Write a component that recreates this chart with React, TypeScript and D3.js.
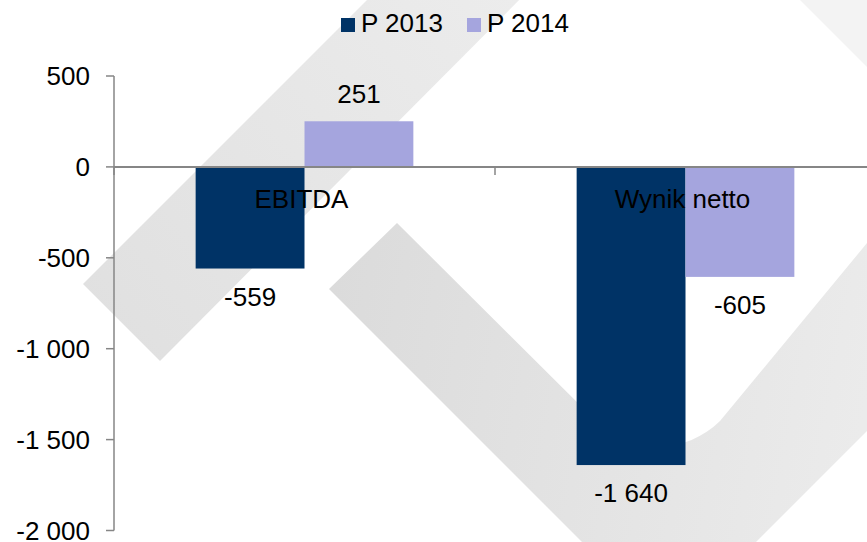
import React from "react";
import * as d3 from "d3";

const width = 867;
const height = 542;

const categories = ["EBITDA", "Wynik netto"];
const seriesNames = ["P 2013", "P 2014"];
const p2013 = [-559, -1640];
const p2014 = [251, -605];
const yTicks = [500, 0, -500, -1000, -1500, -2000];

const colors = ["#003366", "#a5a5de"];
const font = "'Liberation Sans', Arial, sans-serif";
const fs = 26;

const pl = d3.formatLocale({ decimal: ",", thousands: " ", grouping: [3], currency: ["", ""], minus: "-" });
const fmt = pl.format(",d");

// gray logo watermark behind the plot
const bandA = "M387,-20 L539,-20 L160,361 L83,284 Z";
const bandB =
  "M397,223 L329,289 L669,629 L1000,298 L1000,82 L720,421 A88,88 0 0 1 596,421 Z";
const bandC = "M800,0 L880,0 L880,80 Z";

export default function App() {
  const y = d3.scaleLinear().domain([-2000, 500]).range([530.5, 76]);
  const x0 = d3.scaleBand().domain(categories).range([114, 876]).padding(0);
  const x1 = d3.scaleBand().domain(seriesNames).range([0, x0.bandwidth()]).paddingInner(0).paddingOuter(0.75);
  const values = [p2013, p2014];

  const bars = [];
  const labels = [];
  categories.forEach((c, ci) => {
    seriesNames.forEach((s, si) => {
      const v = values[si][ci];
      const bx = x0(c) + x1(s);
      const top = Math.min(y(v), y(0));
      const h = Math.abs(y(v) - y(0));
      bars.push(<rect key={c + s} x={bx} y={top} width={x1.bandwidth()} height={h} fill={colors[si]} />);
      labels.push(
        <text key={"l" + c + s} x={bx + x1.bandwidth() / 2} y={v >= 0 ? y(v) - 18 : y(v) + 37}
          textAnchor="middle" fontSize={fs} fill="#000">{fmt(v)}</text>
      );
    });
  });

  return (
    <svg width={width} height={height} style={{ position: "absolute", left: 0, top: 0, background: "#fff" }} fontFamily={font}>
      <defs>
        <linearGradient id="gA" gradientUnits="userSpaceOnUse" x1="520" y1="0" x2="100" y2="340">
          <stop offset="0" stopColor="#ececec" />
          <stop offset="1" stopColor="#e0e0e0" />
        </linearGradient>
        <linearGradient id="gB" gradientUnits="userSpaceOnUse" x1="330" y1="300" x2="867" y2="400">
          <stop offset="0" stopColor="#dbdbdb" />
          <stop offset="1" stopColor="#ebebeb" />
        </linearGradient>
      </defs>
      <path d={bandA} fill="url(#gA)" />
      <path d={bandB} fill="url(#gB)" />
      <path d={bandC} fill="#f3f3f3" />

      {/* y axis */}
      <line x1={114} x2={114} y1={y(500)} y2={y(-2000)} stroke="#868686" strokeWidth={1.5} />
      {yTicks.map(t => (
        <g key={t}>
          <line x1={106} x2={114} y1={y(t)} y2={y(t)} stroke="#868686" strokeWidth={1.5} />
          <text x={90} y={y(t)} dy="0.35em" textAnchor="end" fontSize={fs} fill="#000">{fmt(t)}</text>
        </g>
      ))}

      {bars}

      {/* category axis at zero */}
      <line x1={114} x2={876} y1={y(0)} y2={y(0)} stroke="#868686" strokeWidth={2} />
      {[...categories.map(c => x0(c)), 876].map((cx, i) => (
        <line key={i} x1={cx} x2={cx} y1={y(0)} y2={y(0) + 8} stroke="#868686" strokeWidth={1.5} />
      ))}
      {categories.map(c => (
        <text key={c} x={x0(c) + x0.bandwidth() / 2 - 3} y={208} textAnchor="middle" fontSize={fs} fill="#000">{c}</text>
      ))}

      {labels}

      {/* legend */}
      {seriesNames.map((s, i) => (
        <g key={s} transform={`translate(${341 + i * 126},0)`}>
          <rect x={0} y={18} width={14} height={14} fill={colors[i]} />
          <text x={20} y={32} fontSize={fs} fill="#000">{s}</text>
        </g>
      ))}
    </svg>
  );
}
